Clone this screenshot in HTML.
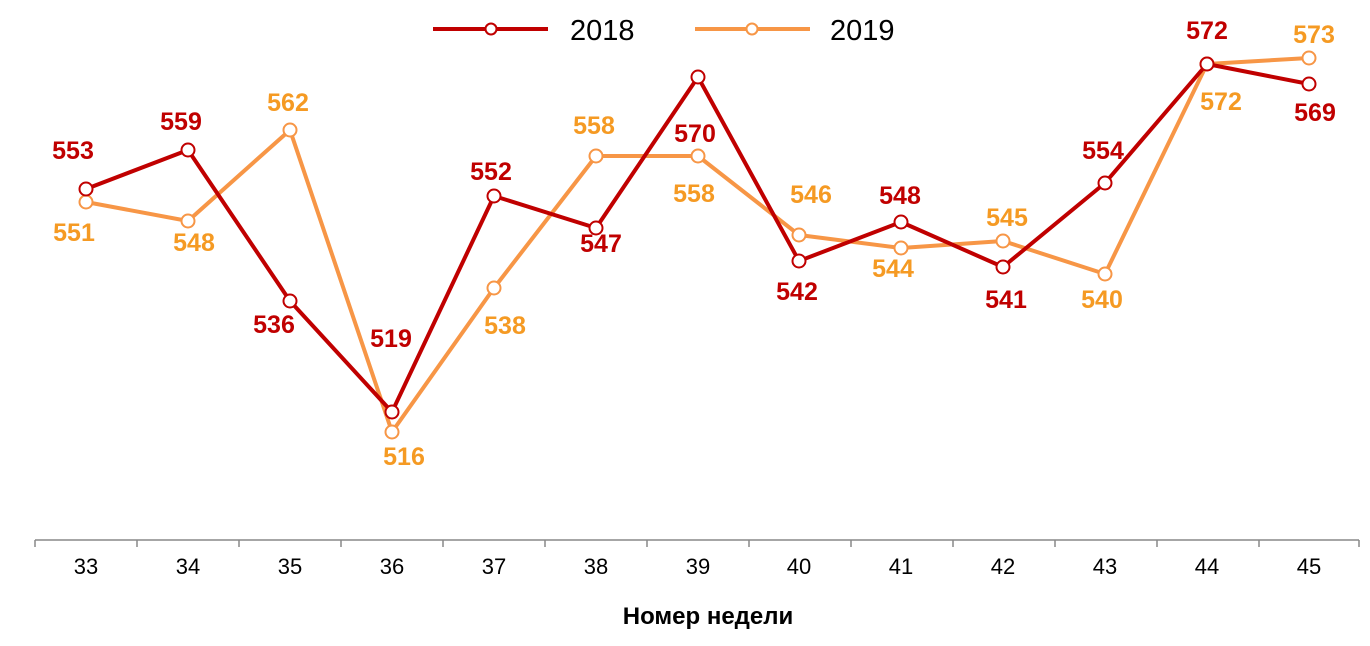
<!DOCTYPE html>
<html><head><meta charset="utf-8"><style>body{margin:0;background:#fff}svg{display:block}</style></head><body>
<svg width="1370" height="646" xmlns="http://www.w3.org/2000/svg" font-family="Liberation Sans, sans-serif">
<rect width="1370" height="646" fill="#fff"/>
<line x1="35" y1="540" x2="1359" y2="540" stroke="#888" stroke-width="1.5"/>
<g stroke="#888" stroke-width="1.5">
<line x1="35" y1="540" x2="35" y2="547"/><line x1="137" y1="540" x2="137" y2="547"/><line x1="239" y1="540" x2="239" y2="547"/><line x1="341" y1="540" x2="341" y2="547"/><line x1="443" y1="540" x2="443" y2="547"/><line x1="545" y1="540" x2="545" y2="547"/><line x1="647" y1="540" x2="647" y2="547"/><line x1="749" y1="540" x2="749" y2="547"/><line x1="851" y1="540" x2="851" y2="547"/><line x1="953" y1="540" x2="953" y2="547"/><line x1="1055" y1="540" x2="1055" y2="547"/><line x1="1157" y1="540" x2="1157" y2="547"/><line x1="1259" y1="540" x2="1259" y2="547"/><line x1="1359" y1="540" x2="1359" y2="547"/>
</g>
<g font-size="22" fill="#000" text-anchor="middle">
<text x="86" y="574">33</text><text x="188" y="574">34</text><text x="290" y="574">35</text><text x="392" y="574">36</text><text x="494" y="574">37</text><text x="596" y="574">38</text><text x="698" y="574">39</text><text x="799" y="574">40</text><text x="901" y="574">41</text><text x="1003" y="574">42</text><text x="1105" y="574">43</text><text x="1207" y="574">44</text><text x="1309" y="574">45</text>
</g>
<text x="708" y="624" font-size="24" font-weight="bold" text-anchor="middle">Номер недели</text>
<polyline fill="none" stroke="#F79646" stroke-width="4" stroke-linejoin="round" points="86,202 188,221 290,130 392,432 494,288 596,156 698,156 799,235 901,248 1003,241 1105,274 1207,64 1309,58"/>
<g fill="#fff" stroke="#F79646" stroke-width="2">
<circle cx="86" cy="202" r="6.5"/><circle cx="188" cy="221" r="6.5"/><circle cx="290" cy="130" r="6.5"/><circle cx="392" cy="432" r="6.5"/><circle cx="494" cy="288" r="6.5"/><circle cx="596" cy="156" r="6.5"/><circle cx="698" cy="156" r="6.5"/><circle cx="799" cy="235" r="6.5"/><circle cx="901" cy="248" r="6.5"/><circle cx="1003" cy="241" r="6.5"/><circle cx="1105" cy="274" r="6.5"/><circle cx="1207" cy="64" r="6.5"/><circle cx="1309" cy="58" r="6.5"/>
</g>
<polyline fill="none" stroke="#C00000" stroke-width="4" stroke-linejoin="round" points="86,189 188,150 290,301 392,412 494,196 596,228 698,77 799,261 901,222 1003,267 1105,183 1207,64 1309,84"/>
<g fill="#fff" stroke="#C00000" stroke-width="2">
<circle cx="86" cy="189" r="6.5"/><circle cx="188" cy="150" r="6.5"/><circle cx="290" cy="301" r="6.5"/><circle cx="392" cy="412" r="6.5"/><circle cx="494" cy="196" r="6.5"/><circle cx="596" cy="228" r="6.5"/><circle cx="698" cy="77" r="6.5"/><circle cx="799" cy="261" r="6.5"/><circle cx="901" cy="222" r="6.5"/><circle cx="1003" cy="267" r="6.5"/><circle cx="1105" cy="183" r="6.5"/><circle cx="1207" cy="64" r="6.5"/><circle cx="1309" cy="84" r="6.5"/>
</g>
<g font-size="25" font-weight="bold" fill="#C00000" text-anchor="middle">
<text x="73" y="159">553</text><text x="181" y="130">559</text><text x="274" y="333">536</text><text x="391" y="347">519</text><text x="491" y="180">552</text><text x="601" y="252">547</text><text x="695" y="142">570</text><text x="797" y="300">542</text><text x="900" y="204">548</text><text x="1006" y="308">541</text><text x="1103" y="159">554</text><text x="1207" y="39">572</text><text x="1315" y="121">569</text>
</g>
<g font-size="25" font-weight="bold" fill="#F59A23" text-anchor="middle">
<text x="74" y="241">551</text><text x="194" y="251">548</text><text x="288" y="111">562</text><text x="404" y="465">516</text><text x="505" y="334">538</text><text x="594" y="134">558</text><text x="694" y="202">558</text><text x="811" y="203">546</text><text x="893" y="277">544</text><text x="1007" y="226">545</text><text x="1102" y="308">540</text><text x="1221" y="110">572</text><text x="1314" y="43">573</text>
</g>
<line x1="433" y1="29" x2="548" y2="29" stroke="#C00000" stroke-width="4"/>
<circle cx="491" cy="29" r="5.5" fill="#fff" stroke="#C00000" stroke-width="2"/>
<text x="570" y="40" font-size="29">2018</text>
<line x1="695" y1="29" x2="810" y2="29" stroke="#F79646" stroke-width="4"/>
<circle cx="752" cy="29" r="5.5" fill="#fff" stroke="#F79646" stroke-width="2"/>
<text x="830" y="40" font-size="29">2019</text>
</svg>
</body></html>
